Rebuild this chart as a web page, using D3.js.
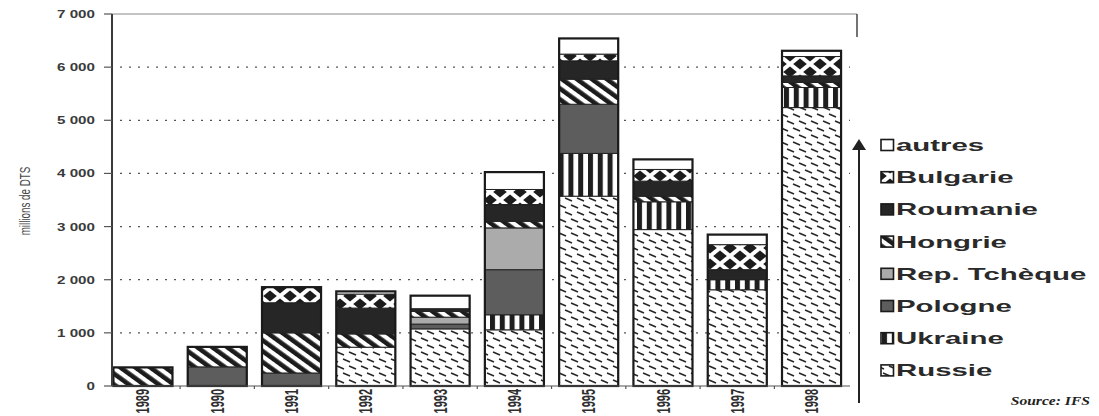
<!DOCTYPE html>
<html>
<head>
<meta charset="utf-8">
<script src="https://cdn.jsdelivr.net/npm/d3@7"></script>
<style>
  html, body { margin: 0; padding: 0; background: #fff; }
  svg { display: block; font-family: "Liberation Sans", Arial, sans-serif; }
</style>
</head>
<body>
<svg id="chart" width="1099" height="416"></svg>
<script>
// Réserves en millions de DTS, par pays (empilées de bas en haut)
const years    = ["1989", "1990", "1991", "1992", "1993", "1994", "1995", "1996", "1997", "1998"];
const russie   = [0,   0,   0,   730, 1075, 1057, 3572, 2943, 1811, 5239];
const ukraine  = [0,   0,   0,   0,   0,    283,  805,  523,  189,  378];
const pologne  = [0,   360, 245, 0,   90,   849,  925,  0,    0,    0];
const tcheque  = [0,   0,   0,   0,   130,  786,  0,    0,    0,    0];
const hongrie  = [350, 376, 755, 250, 110,  125,  472,  106,  0,    94];
const roumanie = [0,   0,   566, 486, 50,   315,  345,  283,  189,  125];
const bulgarie = [0,   0,   294, 264, 0,    283,  126,  220,  471,  364];
const autres   = [0,   0,   0,   50,  245,  327,  295,  189,  189,  108];

const seriesNames = ["Russie", "Ukraine", "Pologne", "Rep. Tchèque", "Hongrie", "Roumanie", "Bulgarie", "autres"];
const seriesValues = [russie, ukraine, pologne, tcheque, hongrie, roumanie, bulgarie, autres];
const yTickValues = [0, 1000, 2000, 3000, 4000, 5000, 6000, 7000];
const yTitle = "millions de DTS";
const sourceLabel = "Source: IFS";

const svg = d3.select("#chart");
const W = 1099, H = 416;
svg.append("rect").attr("width", W).attr("height", H).attr("fill", "#fff");

const frLocale = d3.formatLocale({ decimal: ",", thousands: " ", grouping: [3], currency: ["", " €"] });
const fmt = frLocale.format(",");

// Table for the stack
const rows = years.map((yr, i) => {
  const r = { year: yr };
  seriesNames.forEach((name, k) => { r[name] = seriesValues[k][i]; });
  return r;
});
const stacked = d3.stack().keys(seriesNames)(rows);

const x = d3.scaleBand().domain(years).range([106, 848.5]).paddingInner(0.205).paddingOuter(0.1);
const y = d3.scaleLinear().domain([0, 7000]).range([386, 14]);
const axisX = 112, plotRight = 850;

// ---- fill patterns ----
const defs = svg.append("defs");

// Russie : tirets obliques
const pR = defs.append("pattern").attr("id", "pat-russie").attr("patternUnits", "userSpaceOnUse")
  .attr("width", 12).attr("height", 14);
pR.append("rect").attr("width", 12).attr("height", 14).attr("fill", "#fff");
[[1, 2, 8, 5], [7, 9, 14, 12], [-5, 9, 2, 12]].forEach(l => {
  pR.append("line").attr("x1", l[0]).attr("y1", l[1]).attr("x2", l[2]).attr("y2", l[3])
    .attr("stroke", "#262626").attr("stroke-width", 1.5);
});

// Ukraine : rayures verticales
const pU = defs.append("pattern").attr("id", "pat-ukraine").attr("patternUnits", "userSpaceOnUse")
  .attr("width", 9.8).attr("height", 10);
pU.append("rect").attr("width", 9.8).attr("height", 10).attr("fill", "#fff");
pU.append("rect").attr("width", 5).attr("height", 10).attr("fill", "#1e1e1e");

// Hongrie : larges rayures obliques
const pH = defs.append("pattern").attr("id", "pat-hongrie").attr("patternUnits", "userSpaceOnUse")
  .attr("width", 8.8).attr("height", 10).attr("patternTransform", "rotate(-54)");
pH.append("rect").attr("width", 8.8).attr("height", 10).attr("fill", "#fff");
pH.append("rect").attr("width", 4.6).attr("height", 10).attr("fill", "#1c1c1c");

// Bulgarie : losanges en quinconce
const pB = defs.append("pattern").attr("id", "pat-bulgarie").attr("patternUnits", "userSpaceOnUse")
  .attr("width", 20).attr("height", 16);
pB.append("rect").attr("width", 20).attr("height", 16).attr("fill", "#fff");
[[10, 8], [0, 0], [20, 0], [0, 16], [20, 16]].forEach(c => {
  const hw = 6.8, hh = 5.6;
  pB.append("polygon")
    .attr("points", `${c[0]},${c[1] - hh} ${c[0] + hw},${c[1]} ${c[0]},${c[1] + hh} ${c[0] - hw},${c[1]}`)
    .attr("fill", "#1c1c1c");
});

const fills = {
  "Russie": "url(#pat-russie)",
  "Ukraine": "url(#pat-ukraine)",
  "Pologne": "#5d5d5d",
  "Rep. Tchèque": "#ababab",
  "Hongrie": "url(#pat-hongrie)",
  "Roumanie": "#262626",
  "Bulgarie": "url(#pat-bulgarie)",
  "autres": "#fff"
};

// ---- grid lines ----
svg.append("g").selectAll("line").data(yTickValues.filter(v => v > 0 && v < 7000)).join("line")
  .attr("x1", axisX + 8).attr("x2", plotRight)
  .attr("y1", d => y(d)).attr("y2", d => y(d))
  .attr("stroke", "#555").attr("stroke-width", 1.3).attr("stroke-dasharray", "2 7");

// top frame line
svg.append("line").attr("x1", axisX).attr("x2", 857).attr("y1", y(7000)).attr("y2", y(7000))
  .attr("stroke", "#8a8a8a").attr("stroke-width", 1.2);
svg.append("line").attr("x1", 857).attr("x2", 857).attr("y1", y(7000)).attr("y2", 37)
  .attr("stroke", "#444").attr("stroke-width", 1.5);

// ---- bars ----
const gBars = svg.append("g");
stacked.forEach(layer => {
  gBars.append("g").selectAll("rect").data(layer.filter(d => d[1] - d[0] > 0)).join("rect")
    .attr("x", d => x(d.data.year))
    .attr("width", x.bandwidth())
    .attr("y", d => y(d[1]))
    .attr("height", d => y(d[0]) - y(d[1]))
    .attr("fill", fills[layer.key])
    .attr("stroke", "#222").attr("stroke-width", 1);
});
// outer outline of each bar
gBars.append("g").selectAll("rect").data(rows).join("rect")
  .attr("x", d => x(d.year))
  .attr("width", x.bandwidth())
  .attr("y", d => y(d3.sum(seriesNames, k => d[k])))
  .attr("height", d => y(0) - y(d3.sum(seriesNames, k => d[k])))
  .attr("fill", "none").attr("stroke", "#1a1a1a").attr("stroke-width", 2.2);

// ---- axes ----
svg.append("line").attr("x1", axisX).attr("x2", axisX).attr("y1", y(7000)).attr("y2", y(0))
  .attr("stroke", "#3a3a3a").attr("stroke-width", 2);
svg.append("line").attr("x1", axisX).attr("x2", plotRight).attr("y1", y(0)).attr("y2", y(0))
  .attr("stroke", "#555").attr("stroke-width", 1.2);

// y ticks + labels
const gy = svg.append("g");
gy.selectAll("line").data(yTickValues).join("line")
  .attr("x1", axisX - 8).attr("x2", axisX).attr("y1", d => y(d)).attr("y2", d => y(d))
  .attr("stroke", "#555").attr("stroke-width", 1.2);
gy.selectAll("text").data(yTickValues).join("text")
  .attr("transform", d => `translate(95,${y(d)}) scale(1.38,1)`)
  .attr("text-anchor", "end").attr("dy", "0.36em")
  .attr("font-size", 11).attr("font-weight", "bold").attr("fill", "#3a3a3a")
  .text(d => fmt(d));

// x ticks between categories
const step = x.step();
svg.append("g").selectAll("line").data(years.slice(0, -1)).join("line")
  .attr("x1", d => x(d) + x.bandwidth() + (step - x.bandwidth()) / 2)
  .attr("x2", d => x(d) + x.bandwidth() + (step - x.bandwidth()) / 2)
  .attr("y1", y(0)).attr("y2", y(0) + 3)
  .attr("stroke", "#555").attr("stroke-width", 1.2);

// x labels (rotated)
svg.append("g").selectAll("text").data(years).join("text")
  .attr("transform", d => `translate(${x(d) + x.bandwidth() / 2},389) rotate(-90) scale(1,1.65)`)
  .attr("text-anchor", "end").attr("dy", "0.36em")
  .attr("font-size", 11).attr("font-weight", "bold").attr("fill", "#2e2e2e")
  .text(d => d);

// y title
svg.append("text")
  .attr("transform", "translate(25,201) rotate(-90) scale(1,1.5)")
  .attr("text-anchor", "middle").attr("dy", "0.36em")
  .attr("font-size", 9.8).attr("fill", "#444")
  .text(yTitle);

// ---- arrow ----
svg.append("line").attr("x1", 859).attr("x2", 859).attr("y1", 403).attr("y2", 146)
  .attr("stroke", "#222").attr("stroke-width", 2);
svg.append("polygon").attr("points", "859,139 852,150 866,150").attr("fill", "#222");

// ---- legend ----
const legendOrder = seriesNames.slice().reverse();
const gl = svg.append("g");
legendOrder.forEach((name, i) => {
  const cy = 145 + i * 32.2;
  gl.append("rect").attr("x", 881).attr("y", cy - 5.5).attr("width", 12.5).attr("height", 11)
    .attr("fill", fills[name]).attr("stroke", "#1a1a1a").attr("stroke-width", 1.6);
  gl.append("text")
    .attr("transform", `translate(896,${cy}) scale(1.78,1)`)
    .attr("dy", "0.36em").attr("font-size", 16.5).attr("font-weight", "bold").attr("fill", "#2a2a2a")
    .text(name);
});

// source
svg.append("text")
  .attr("transform", "translate(1090,405) scale(1.3,1)")
  .attr("text-anchor", "end")
  .attr("font-family", "'Liberation Serif', 'Times New Roman', serif")
  .attr("font-style", "italic").attr("font-weight", "bold").attr("font-size", 12).attr("fill", "#222")
  .text(sourceLabel);
</script>
</body>
</html>
